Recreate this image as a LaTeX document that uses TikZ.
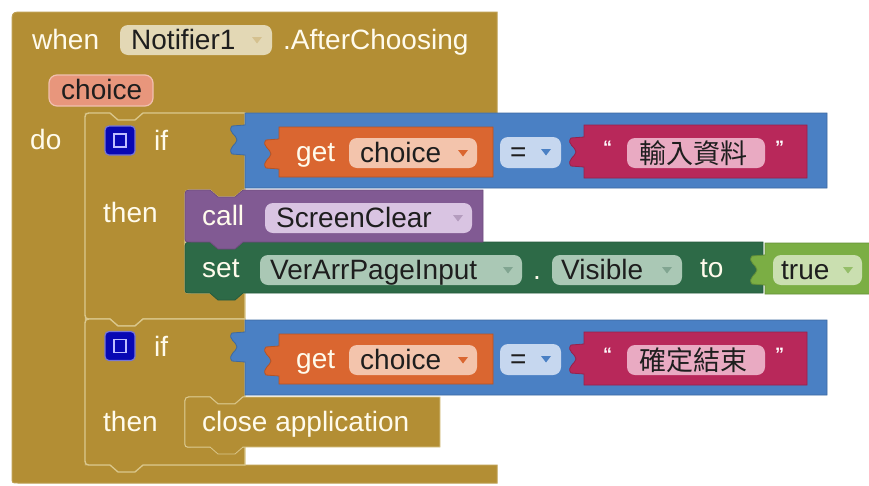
\documentclass[tikz,border=0pt]{standalone}
\usepackage{fontspec}
\setmainfont{Liberation Sans}
\newfontfamily\cjk{Noto Sans CJK TC}

% block colours
\definecolor{gold}{RGB}{179,142,52}
\definecolor{goldhi}{RGB}{218,199,140}
\definecolor{lblue}{RGB}{74,128,196}
\definecolor{orng}{RGB}{218,102,48}
\definecolor{mgnt}{RGB}{184,40,90}
\definecolor{purp}{RGB}{129,90,147}
\definecolor{dgreen}{RGB}{45,106,71}
\definecolor{lgreen}{RGB}{123,174,68}
% field colours
\definecolor{notifpill}{RGB}{227,216,181}
\definecolor{parpill}{RGB}{232,150,124}
\definecolor{orpill}{RGB}{243,196,172}
\definecolor{eqpill}{RGB}{198,215,239}
\definecolor{mgpill}{RGB}{233,170,194}
\definecolor{pupill}{RGB}{217,196,226}
\definecolor{grpill}{RGB}{170,200,181}
\definecolor{lgpill}{RGB}{202,223,176}
\definecolor{lbltext}{RGB}{255,251,236}
\definecolor{fldtext}{RGB}{30,30,30}
\definecolor{iconblue}{RGB}{8,8,180}

\tikzset{
  lbl/.style={anchor=base west, inner sep=0, text=lbltext, font=\fontsize{28}{32}\selectfont},
  fld/.style={lbl, text=fldtext},
  cjkfld/.style={fld, font=\fontsize{27}{32}\selectfont\cjk},
  quote/.style={anchor=base west, inner sep=0, text=white, font=\fontsize{18}{20}\selectfont\bfseries},
  pillbox/.style={rounded corners=8},
  blk/.style={line width=0.8},
}

% value block with a puzzle tab on its left edge: colour, x0, y0, x1, y1
\newcommand{\valblock}[5]{%
  \filldraw[blk, fill=#1, draw=#1!82!black]
    (#2,#3) -- (#4,#3) -- (#4,#5) -- (#2,#5) -- (#2,#3+42)
    -- (#2-13,#3+41) .. controls (#2-18,#3+35) and (#2-8,#3+31) .. (#2-8,#3+27)
    .. controls (#2-8,#3+22) and (#2-18,#3+19) .. (#2-13,#3+13)
    -- (#2,#3+12) -- cycle;}

% statement block with top notch and bottom tab: fill, outline, x0, y0, x1, y1
\newcommand{\stmtblock}[6]{%
  \filldraw[blk, fill=#1, draw=#2]
    (#3,#4+8) .. controls (#3,#4) .. (#3+8,#4)
    -- (#3+25,#4) -- (#3+33,#4+7) -- (#3+50,#4+7) -- (#3+58,#4)
    -- (#5,#4) -- (#5,#6)
    -- (#3+58,#6) -- (#3+50,#6+7) -- (#3+33,#6+7) -- (#3+25,#6)
    -- (#3+6,#6) .. controls (#3,#6) .. (#3,#6-6) -- cycle;}

% "if ... then" block with its C-shaped slot: x0, y0, slot top, slot bottom, y1
\newcommand{\ifblock}[5]{%
  \filldraw[line width=1.3, fill=gold, draw=goldhi]
    (#1,#2+8) .. controls (#1,#2) .. (#1+8,#2)
    -- (#1+25,#2) -- (#1+33,#2+7) -- (#1+50,#2+7) -- (#1+58,#2)
    -- (245,#2) -- (245,#3)
    -- (243,#3) -- (235,#3+7) -- (218,#3+7) -- (210,#3)
    -- (193,#3) .. controls (185,#3) .. (185,#3+8)
    -- (185,#4-6) .. controls (185,#4) .. (191,#4)
    -- (245,#4) -- (245,#5)
    -- (#1+58,#5) -- (#1+50,#5+7) -- (#1+33,#5+7) -- (#1+25,#5)
    -- (#1+8,#5) .. controls (#1,#5) .. (#1,#5-8) -- cycle;}

% small drop-down marker: colour, x, y
\newcommand{\ddarrow}[3]{%
  \fill[#1] (#2-5,#3-3) -- (#2+5,#3-3) -- (#2,#3+3.5) -- cycle;}

% mutator icon: y centre
\newcommand{\mutator}[1]{%
  \filldraw[fill=iconblue, draw=iconblue!55!white, line width=1.2, rounded corners=4]
    (105,#1-14.5) rectangle (135,#1+14.5);
  \draw[white!75!blue, line width=1.6] (114,#1-6.5) rectangle (126,#1+6.5);}

% "get choice = text" comparison, shifted down by #1
\newcommand{\compare}[3]{%
  \valblock{lblue}{245}{113+#1}{827}{188+#1}
  \valblock{orng}{279}{127+#1}{493}{177+#1}
  \fill[orpill, pillbox] (349,138+#1) rectangle (477,168+#1);
  \ddarrow{orng}{463}{153+#1}
  \fill[eqpill, pillbox] (500,137+#1) rectangle (561,168+#1);
  \ddarrow{lblue}{546}{152+#1}
  \valblock{mgnt}{584}{125+#1}{807}{178+#1}
  \fill[mgpill, pillbox] (627,138+#1) rectangle (765,168+#1);
  \node[lbl] (#2get) at (296,161+#1) {get};
  \node[fld] (#2var) at (360,162+#1) {choice};
  \node[fld] (#2eq) at (510,161+#1) {=};
  \node[quote] (#2lq) at (603,153+#1) {“};
  \node[cjkfld] (#2str) at (639,163+#1) {#3};
  \node[quote] (#2rq) at (775,153+#1) {”};}

\begin{document}
\begin{tikzpicture}[x=1pt,y=-1pt]
\useasboundingbox (0,0) rectangle (869,485);
\fill[white] (0,0) rectangle (869,485);

% event handler
\filldraw[line width=1, fill=gold, draw=gold!85!white]
  (12,24) .. controls (12,12) .. (24,12) -- (497,12) -- (497,113)
  -- (143,113) -- (135,120) -- (118,120) -- (110,113) -- (85,113)
  -- (85,465) -- (497,465) -- (497,483) -- (18,483) .. controls (12,483) .. (12,477) -- cycle;
\node[lbl] (when) at (32,49) {when};
\fill[notifpill, pillbox] (120,25) rectangle (272,55);
\ddarrow{gold!55!white}{257}{40}
\node[fld] (comp) at (131,49) {Notifier1};
\node[lbl] (event) at (283,49) {.AfterChoosing};
\filldraw[fill=parpill, draw=parpill!60!white, line width=1.2, pillbox] (49,75) rectangle (153,106);
\node[fld] (param) at (61,99.5) {choice};
\node[lbl] (do) at (30,149) {do};

% first if / then
\ifblock{85}{113}{190}{293}{319}
\mutator{140.5}
\node[lbl] (ifa) at (154,150) {if};
\node[lbl] (thena) at (103,222) {then};
\compare{0}{a}{輸入資料}

% set VerArrPageInput.Visible to true
\stmtblock{dgreen}{dgreen!85!black}{185}{242}{763}{293}
\fill[grpill, pillbox] (260,255) rectangle (522,285);
\ddarrow{dgreen!60!white}{508}{270}
\fill[grpill, pillbox] (552,255) rectangle (682,285);
\ddarrow{dgreen!60!white}{667}{270}
\node[lbl] (set) at (202,277) {set};
\node[fld] (target) at (270,279) {VerArrPageInput};
\node[lbl] (dot) at (533,279) {.};
\node[fld] (prop) at (561,279) {Visible};
\node[lbl] (to) at (700,277) {to};
\valblock{lgreen}{765}{243}{880}{294}
\fill[lgpill, pillbox] (773,255) rectangle (862,285);
\ddarrow{lgreen!80!white}{848}{270}
\node[fld] (bool) at (781,279) {true};

% call ScreenClear
\stmtblock{purp}{purp!85!black}{185}{190}{483}{242}
\fill[pupill, pillbox] (265,203) rectangle (472,233);
\ddarrow{purp!60!white}{458}{218}
\node[lbl] (call) at (202,225) {call};
\node[fld] (proc) at (276,227) {ScreenClear};

% second if / then
\ifblock{85}{319}{397}{447}{465}
\mutator{346}
\node[lbl] (ifb) at (154,356) {if};
\node[lbl] (thenb) at (103,431) {then};
\compare{207}{b}{確定結束}

% close application
\stmtblock{gold}{goldhi}{185}{397}{440}{447}
\node[lbl] (close) at (202,431) {close application};
\end{tikzpicture}
\end{document}
